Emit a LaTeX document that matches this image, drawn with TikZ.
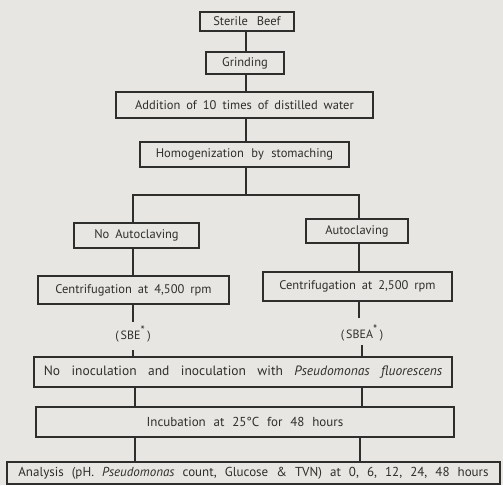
\documentclass[tikz,border=0pt]{standalone}
\usepackage{fontspec}
\setmainfont{PT Sans}
\usetikzlibrary{calc}
\definecolor{bg}{HTML}{E7E6E2}
\definecolor{ink}{HTML}{2E2E2C}
\newcommand{\wsA}{\spaceskip=0.7em plus 0.1em\relax}
\newcommand{\wsB}{\spaceskip=0.62em plus 0.1em\relax}
\newcommand{\wsC}{\spaceskip=0.48em plus 0.1em\relax}
\newcommand{\wsD}{\spaceskip=0.85em plus 0.1em\relax}
\newcommand{\wsE}{\spaceskip=0.6em plus 0.1em\relax}
\newcommand{\myast}{\textsuperscript{\large *}}
\tikzset{
  box/.style={draw=ink, line width=1.3pt, rectangle, inner sep=0pt, text=ink,
    font=\fontsize{12.5}{14}\selectfont, execute at begin node=\wsA},
  lbl/.style={text=ink, inner sep=1pt, font=\fontsize{12}{14}\selectfont},
  conn/.style={draw=ink, line width=1.1pt}
}
\begin{document}
\begin{tikzpicture}[x=1pt,y=-1pt]
\fill[bg] (0,0) rectangle (503,485);
\useasboundingbox (0,0) rectangle (503,485);
\coordinate (xc) at (246,0);
\coordinate (xl) at (133,0);
\coordinate (xr) at (359,0);
\coordinate (xl2) at (135,0);
\coordinate (xr2) at (362,0);
\coordinate (xr3) at (360,0);
\node[box, minimum width=94pt, minimum height=19pt] (sterile) at (247,21.5) {Sterile Beef};
\node[box, minimum width=78pt, minimum height=22pt] (grind) at (245,63) {Grinding};
\node[box, minimum width=257pt, minimum height=26pt, execute at begin node=\wsC] (add) at (244.5,105) {Addition of 10 times of distilled water};
\node[box, minimum width=209pt, minimum height=25pt, execute at begin node=\wsE] (homog) at (244.5,154.5) {Homogenization by stomaching};
\coordinate (split) at (246,195);
\coordinate (splitL) at (133,195);
\coordinate (splitR) at (359,195);
\node[box, minimum width=125pt, minimum height=25pt, execute at begin node=\wsC] (noauto) at (136.5,235.5) {No Autoclaving};
\node[box, minimum width=102pt, minimum height=24pt] (auto) at (357,231) {Autoclaving};
\node[box, minimum width=191pt, minimum height=28pt, execute at begin node=\wsC] (cent1) at (133.5,290) {Centrifugation at 4,500 rpm};
\node[box, minimum width=189pt, minimum height=29pt, execute at begin node=\wsC] (cent2) at (357.5,286.5) {Centrifugation at 2,500 rpm};
\node[lbl] (sbe) at (133,334) {(\,SBE\myast\,)};
\node[lbl] (sbea) at (362,333) {(\,SBEA\myast\,)};
\node[box, minimum width=418pt, minimum height=30pt, font=\fontsize{13.5}{15}\selectfont, execute at begin node=\wsD] (inoc) at (243,372) {No inoculation and inoculation with \textit{Pseudomonas fluorescens}};
\node[box, minimum width=418pt, minimum height=30pt, font=\fontsize{13}{15}\selectfont, execute at begin node=\wsE] (incub) at (245,422) {Incubation at 25°C for 48 hours};
\node[box, minimum width=493pt, minimum height=22pt, font=\fontsize{13}{15}\selectfont, execute at begin node=\wsB] (anal) at (253.5,473) {Analysis (pH. \textit{Pseudomonas} count, Glucose \& TVN) at 0, 6, 12, 24, 48 hours};
\coordinate (sbeT) at (133,322);
\coordinate (sbeB) at (133,350);
\coordinate (sbeaT) at (359,318);
\coordinate (sbeaB) at (362,345);
\draw[conn] (sterile.south -| xc) -- (grind.north -| xc);
\draw[conn] (grind.south -| xc) -- (add.north -| xc);
\draw[conn] (add.south -| xc) -- (homog.north -| xc);
\draw[conn] (homog.south -| split) -- (split);
\draw[conn] (noauto.north -| splitL) -- (splitL) -- (splitR) -- (auto.north -| splitR);
\draw[conn] (noauto.south -| xl) -- (cent1.north -| xl);
\draw[conn] (auto.south -| xr) -- (cent2.north -| xr);
\draw[conn] (cent1.south -| sbeT) -- (sbeT);
\draw[conn] (cent2.south -| sbeaT) -- (sbeaT);
\draw[conn] (sbeB) -- (inoc.north -| sbeB);
\draw[conn] (sbeaB) -- (inoc.north -| sbeaB);
\draw[conn] (inoc.south -| xl2) -- (incub.north -| xl2);
\draw[conn] (inoc.south -| xr2) -- (incub.north -| xr2);
\draw[conn] (incub.south -| xl2) -- (anal.north -| xl2);
\draw[conn] (incub.south -| xr3) -- (anal.north -| xr3);
\end{tikzpicture}
\end{document}
